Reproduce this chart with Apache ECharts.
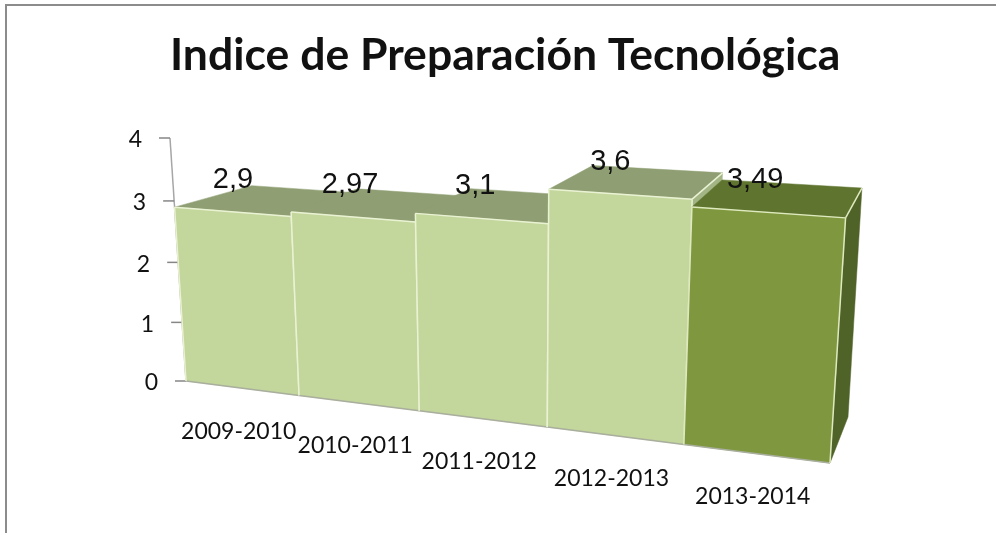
<!DOCTYPE html>
<html><head><meta charset="utf-8">
<style>html,body{margin:0;padding:0;background:#fff}#c{width:996px;height:533px}</style>
<script src="https://cdn.jsdelivr.net/npm/echarts@6/dist/echarts.min.js"></script>
</head><body><div id="c"></div>
<script>
const titleText = 'Indice de Preparación Tecnológica';
const categories = ['2009-2010','2010-2011','2011-2012','2012-2013','2013-2014'];
const values = [2.9, 2.97, 3.1, 3.6, 3.49];
const yTicks = [0, 1, 2, 3, 4];

// Perspective of the 3D chart: plot-area corners -> screen, for the front and back planes
const FRONT = {bl:[186,381], br:[830,463], tl:[170,138], tr:[848,180]};
const BACK  = {bl:[248,346], br:[848,417], tl:[253,124], tr:[864,154]};
function homography(c){
  const [x0,y0]=c.bl,[x1,y1]=c.br,[x2,y2]=c.tr,[x3,y3]=c.tl;
  const dx1=x1-x2,dx2=x3-x2,dx3=x0-x1+x2-x3,dy1=y1-y2,dy2=y3-y2,dy3=y0-y1+y2-y3;
  const den=dx1*dy2-dx2*dy1;
  const g=(dx3*dy2-dx2*dy3)/den,h=(dx1*dy3-dx3*dy1)/den;
  const a=x1-x0+g*x1,b=x3-x0+h*x3,d=y1-y0+g*y1,e=y3-y0+h*y3;
  return (s,t)=>{const w=g*s+h*t+1;return [(a*s+b*t+x0)/w,(d*s+e*t+y0)/w];};
}
const hFront=homography(FRONT),hBack=homography(BACK);

const barColors = [
  {front:'#c3d69b',top:'#8f9f73',side:'#8f9f73',edge:'#eaf2d4'},
  {front:'#c3d69b',top:'#8f9f73',side:'#8f9f73',edge:'#eaf2d4'},
  {front:'#c3d69b',top:'#8f9f73',side:'#8f9f73',edge:'#eaf2d4'},
  {front:'#c3d69b',top:'#8f9f73',side:'#a3b585',edge:'#eaf2d4'},
  {front:'#7f983f',top:'#5f752f',side:'#4f6228',edge:'#dfe9bf'}
];

function projector(api){
  const o=api.coord([0,0]), m=api.coord([categories.length-1,yTicks[yTicks.length-1]]);
  const band=api.size([1,0])[0];
  const left=o[0]-band/2, w=(m[0]+band/2)-left, bottom=o[1], h=bottom-m[1];
  return (px,py,depth)=>{
    const s=(px-left)/w,t=(bottom-py)/h;
    const f=hFront(s,t);
    if(!depth) return f;
    const b=hBack(s,t);
    return [f[0]+(b[0]-f[0])*depth,f[1]+(b[1]-f[1])*depth];
  };
}
const line=(a,b,stroke,lw)=>({type:'line',shape:{x1:a[0],y1:a[1],x2:b[0],y2:b[1]},style:{stroke,lineWidth:lw}});
const poly=(pts,fill)=>({type:'polygon',shape:{points:pts},style:{fill,stroke:fill,lineWidth:0.5}});

function renderBar(params,api){
  const i=api.value(0),v=api.value(1),P=projector(api);
  const band=api.size([1,0])[0];
  const c=api.coord([i,v]),z=api.coord([i,0]);
  const xl=c[0]-band/2,xr=c[0]+band/2,yt=c[1],yb=z[1];
  const col=barColors[i];
  const fbl=P(xl,yb),fbr=P(xr,yb),ftl=P(xl,yt),ftr=P(xr,yt);
  const bbr=P(xr,yb,1),btl=P(xl,yt,1),btr=P(xr,yt,1);
  const tc=P(c[0],yt),fc=P(c[0],yb);
  const text=String(values[i]).replace('.',',');
  return {type:'group',children:[
    poly([fbr,bbr,btr,ftr],col.side),
    poly([ftl,ftr,btr,btl],col.top),
    poly([fbl,fbr,ftr,ftl],col.front),
    line(fbl,fbr,'#a9ae9e',1.5),
    line(ftl,fbl,col.edge,1.5),
    line(ftr,fbr,col.edge,1.5),
    line(ftl,ftr,col.edge,1.5),
    line(ftr,btr,col.edge,1.5),
    {type:'text',z2:10,x:tc[0]+1-3.3*i,y:tc[1]-32,style:{text,font:'29px "Liberation Sans"',fill:'#111',align:'center',verticalAlign:'middle'}},
    {type:'text',z2:10,x:fc[0]-3,y:fc[1]+43,style:{text:categories[i],font:'23px Lato',fill:'#111',align:'center',verticalAlign:'middle'}}
  ]};
}
function renderTick(params,api){
  const v=api.value(1),P=projector(api);
  const band=api.size([1,0])[0];
  const c=api.coord([0,v]);
  const a=P(c[0]-band/2,c[1]);
  return {type:'group',children:[
    line([a[0]-11,a[1]],a,'#868686',1.5),
    {type:'text',x:a[0]-28,y:a[1]+2,style:{text:String(api.value(1)),font:'23px Lato',fill:'#111',align:'right',verticalAlign:'middle'}}
  ]};
}
function renderAxisLine(params,api){
  const P=projector(api),band=api.size([1,0])[0];
  const a=api.coord([0,yTicks[0]]),b=api.coord([0,yTicks[yTicks.length-1]]);
  return line(P(a[0]-band/2,a[1]),P(b[0]-band/2,b[1]),'#a6a6a6',1.5);
}

const chart=echarts.init(document.getElementById('c'),null,{renderer:'canvas'});
chart.setOption({
  animation:false,
  backgroundColor:'#fff',
  title:{text:titleText,left:165,top:28,textStyle:{fontFamily:'Lato',fontWeight:'bold',fontSize:44.5,color:'#111'}},
  graphic:[
    {type:'polyline',silent:true,shape:{points:[[6,533],[6,5],[996,5]]},style:{stroke:'#8c8c8c',fill:'none',lineWidth:2}}
  ],
  grid:{left:170,right:149,top:138,bottom:152},
  xAxis:{type:'category',data:categories,show:false},
  yAxis:{type:'value',min:0,max:4,interval:1,show:false},
  series:[
    {type:'custom',silent:true,renderItem:renderAxisLine,data:[[0,0]],z:1},
    {type:'custom',silent:true,renderItem:renderTick,data:yTicks.map(t=>[0,t]),z:1},
    {type:'custom',silent:true,renderItem:renderBar,data:values.map((v,i)=>[i,v]),z:2}
  ]
});
</script></body></html>
